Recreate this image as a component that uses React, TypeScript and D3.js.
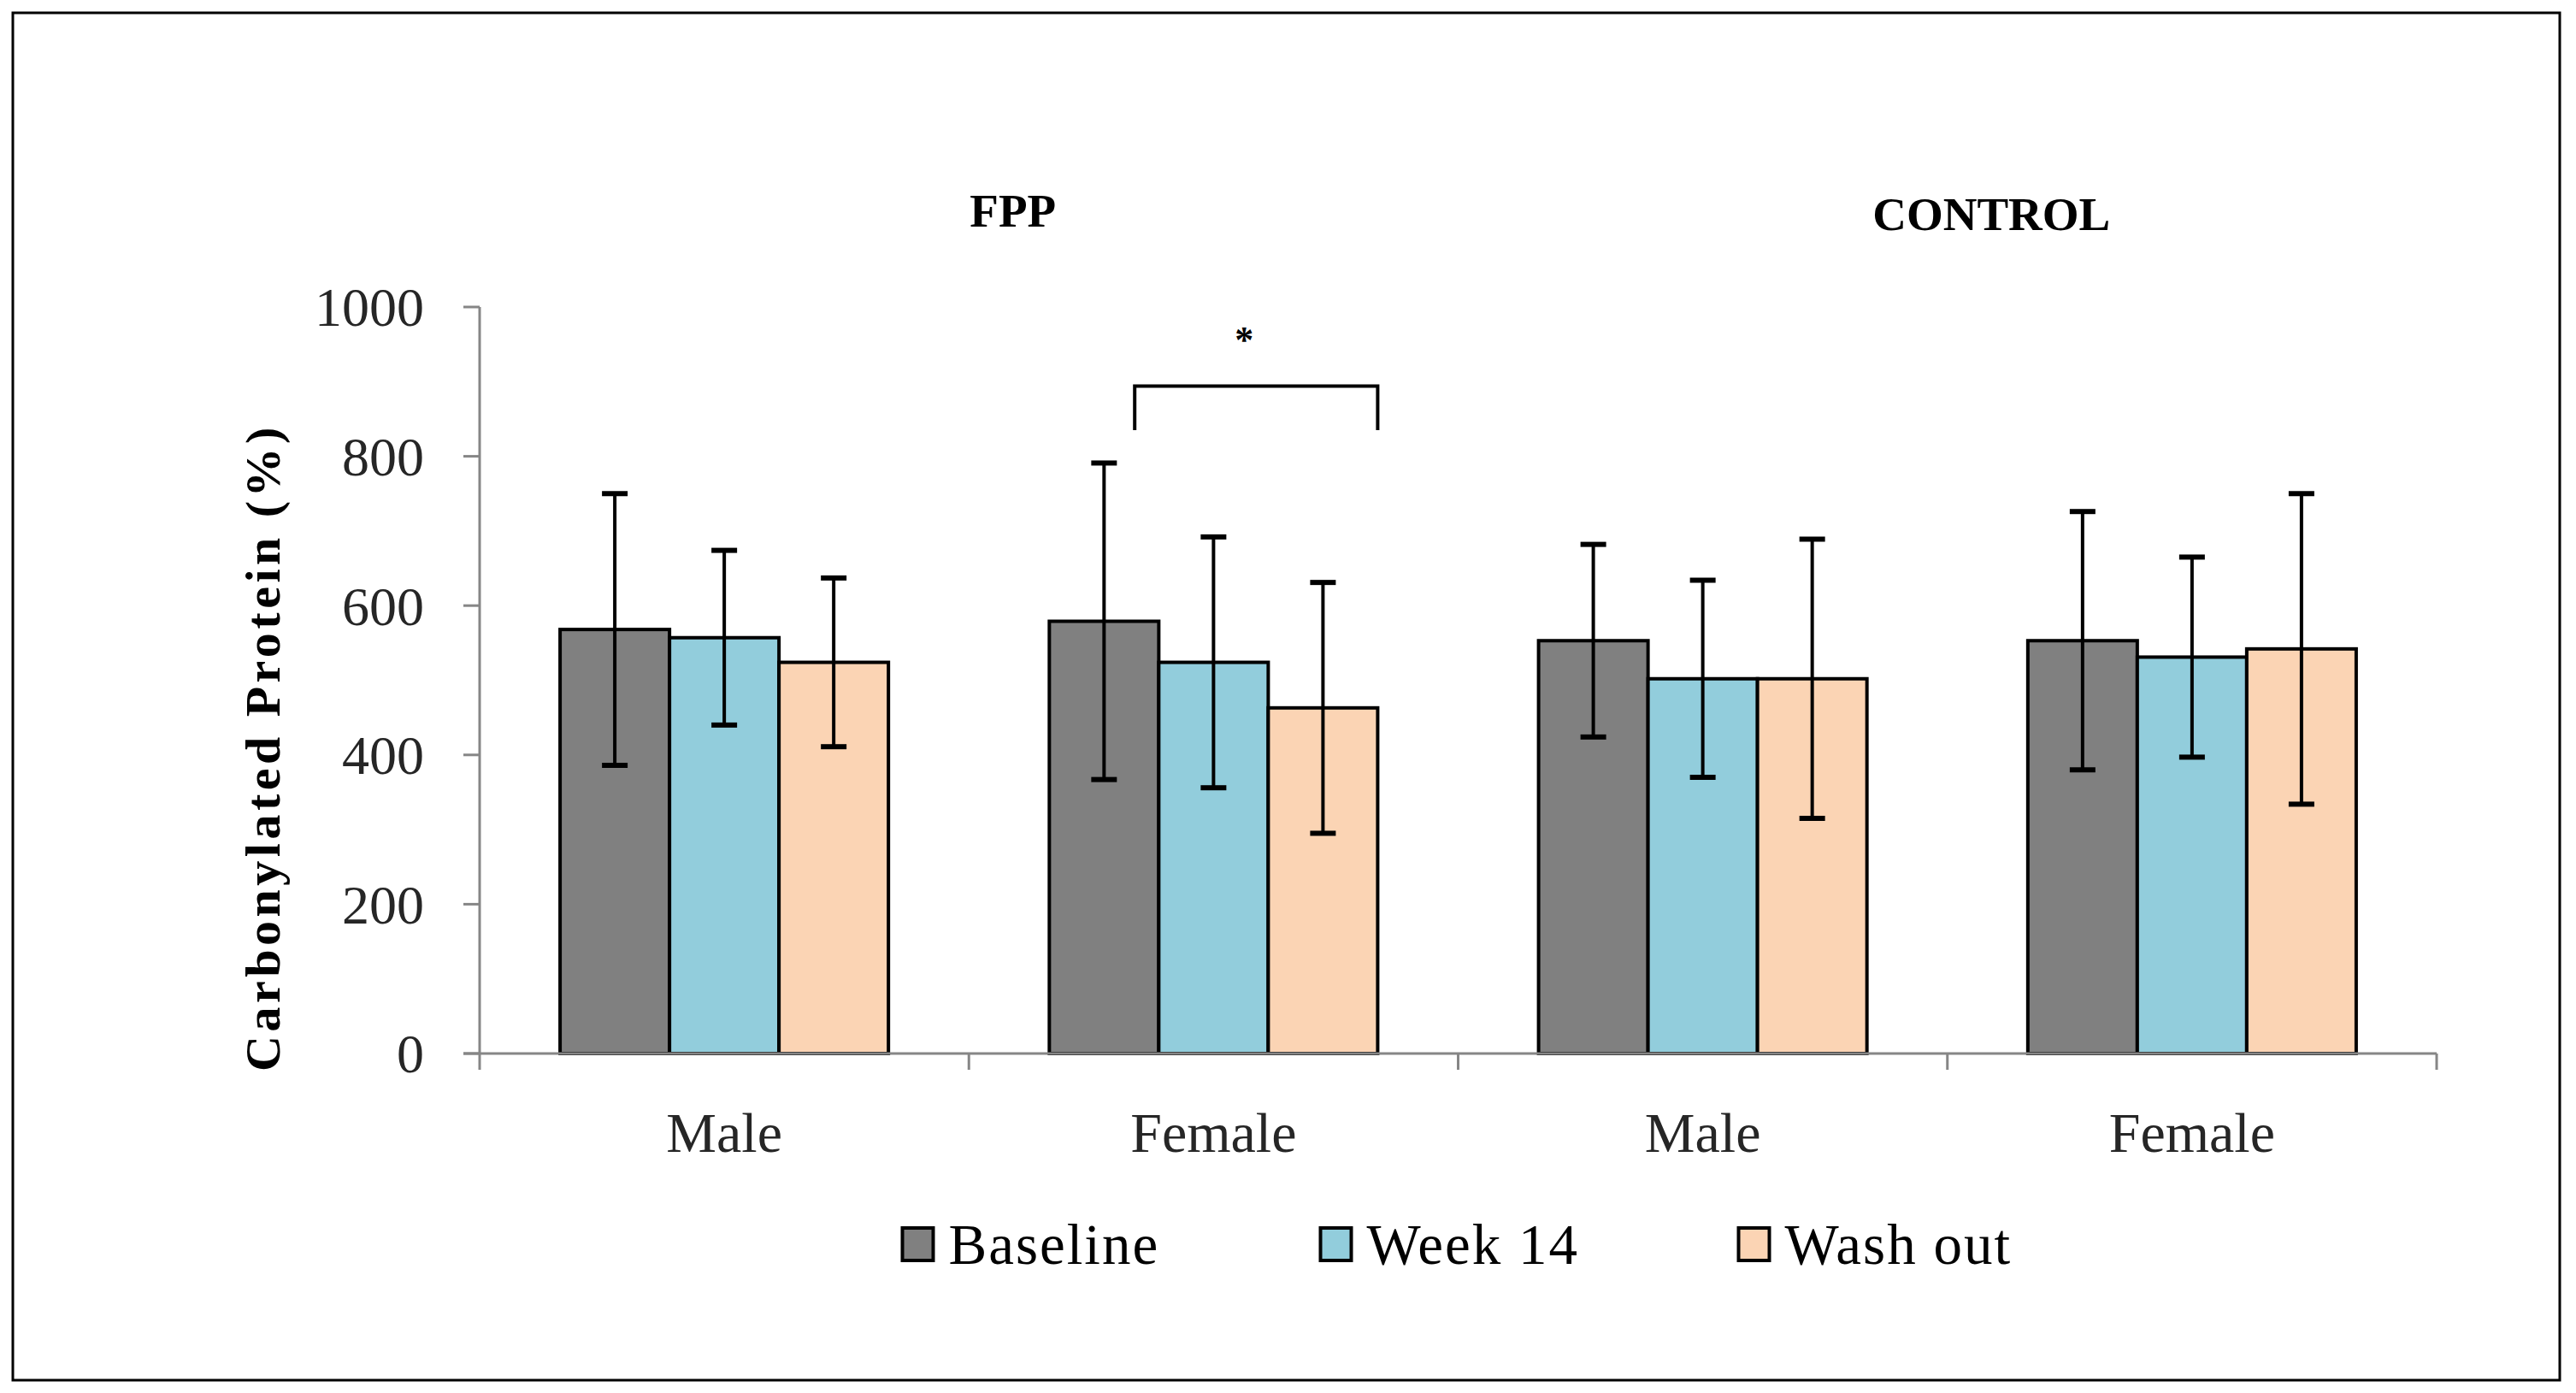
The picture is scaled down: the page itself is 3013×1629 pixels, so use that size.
import React from 'react'
import * as d3 from 'd3'

// categories along the x axis (each belongs to a treatment group)
const categories = ['Male', 'Female', 'Male', 'Female']
const groups = ['FPP', 'FPP', 'CONTROL', 'CONTROL']
const series = ['Baseline', 'Week 14', 'Wash out']
const seriesColors = ['#808080', '#92CDDC', '#FBD4B4']

// means and standard deviations
const baselineMeans = [568, 579, 553, 553]
const week14Means = [557, 524, 502, 531]
const washoutMeans = [524, 463, 502, 542]
const baselineSD = [182, 212, 129, 173]
const week14SD = [117, 168, 132, 134]
const washoutSD = [113, 168, 187, 208]

const yTicks = [0, 200, 400, 600, 800, 1000]

const W = 3013
const H = 1629
const FONT = "'Liberation Serif', 'DejaVu Serif', serif"

export default function App() {
  const means = [baselineMeans, week14Means, washoutMeans]
  const sds = [baselineSD, week14SD, washoutSD]
  const keys = categories.map((c, i) => `${groups[i]}-${c}-${i}`)

  const x0 = d3.scaleBand<string>().domain(keys).range([561, 2850]).padding(0)
  const x1 = d3.scaleBand<string>().domain(series).range([0, x0.bandwidth()])
    .paddingInner(0).paddingOuter(0.735)
  const y = d3.scaleLinear().domain([0, 1000]).range([1232, 359])

  const bw = x1.bandwidth()
  const capW = 30

  // significance bracket on FPP female: baseline -> wash out
  const fKey = keys[1]
  const brLeft = x0(fKey)! + x1('Baseline')! + bw * 0.78
  const brRight = x0(fKey)! + x1('Wash out')! + bw
  const brTop = y(894)
  const brBottom = y(835)

  const groupNames = ['FPP', 'CONTROL']
  const groupTitleX = groupNames.map(g => {
    const idx = groups.indexOf(g)
    return x0(keys[idx + 1])! + x0.bandwidth() * 0.09
  })

  const plotCenter = (x0.range()[0] + x0.range()[1]) / 2
  const legendStart = plotCenter - 650
  const legendStep = 489

  return (
    <svg width={W} height={H} style={{ position: 'absolute', left: 0, top: 0, display: 'block', background: '#fff' }}
      fontFamily={FONT}>
      <rect x={0} y={0} width={W} height={H} fill="#fff" />
      <rect x={15} y={15} width={2979} height={1599} fill="none" stroke="#000" strokeWidth={3} />

      {/* group titles */}
      {groupNames.map((g, i) => (
        <text key={g} x={groupTitleX[i]} y={i === 0 ? 265 : 269} textAnchor="middle"
          fontSize={55} fontWeight="bold" fill="#000">{g}</text>
      ))}

      {/* y axis */}
      <line x1={x0.range()[0]} x2={x0.range()[0]} y1={y(1000)} y2={y(0)} stroke="#868686" strokeWidth={3} />
      {yTicks.map(t => (
        <g key={t}>
          <line x1={x0.range()[0] - 19} x2={x0.range()[0]} y1={y(t)} y2={y(t)} stroke="#868686" strokeWidth={3} />
          <text x={496} y={y(t)} dy="0.35em" textAnchor="end" fontSize={64} fill="#262626">{t}</text>
        </g>
      ))}
      <text transform={`translate(307, 874) rotate(-90)`} textAnchor="middle" dy="0.35em"
        fontSize={58} fontWeight="bold" letterSpacing={4.5} fill="#000">Carbonylated Protein (%)</text>

      {/* bars */}
      {keys.map((k, ci) => (
        <g key={k} transform={`translate(${x0(k)},0)`}>
          {series.map((s, si) => (
            <rect key={s} x={x1(s)} y={y(means[si][ci])} width={bw} height={y(0) - y(means[si][ci])}
              fill={seriesColors[si]} stroke="#000" strokeWidth={4} />
          ))}
        </g>
      ))}

      {/* x axis */}
      <line x1={x0.range()[0] - 19} x2={x0.range()[1]} y1={y(0)} y2={y(0)} stroke="#868686" strokeWidth={3} />
      {[...keys.map(k => x0(k)!), x0.range()[1]].map((xv, i) => (
        <line key={i} x1={xv} x2={xv} y1={y(0)} y2={y(0) + 19} stroke="#868686" strokeWidth={3} />
      ))}
      {keys.map((k, ci) => (
        <text key={k} x={x0(k)! + x0.bandwidth() / 2} y={1324} dy="0.35em" textAnchor="middle"
          fontSize={66} fill="#262626">{categories[ci]}</text>
      ))}

      {/* error bars */}
      {keys.map((k, ci) => (
        <g key={k} transform={`translate(${x0(k)},0)`}>
          {series.map((s, si) => {
            const cx = x1(s)! + bw / 2
            const hi = y(means[si][ci] + sds[si][ci])
            const lo = y(means[si][ci] - sds[si][ci])
            return (
              <g key={s} stroke="#000" strokeWidth={4}>
                <line x1={cx} x2={cx} y1={hi} y2={lo} />
                <line x1={cx - capW / 2} x2={cx + capW / 2} y1={hi} y2={hi} strokeWidth={6} />
                <line x1={cx - capW / 2} x2={cx + capW / 2} y1={lo} y2={lo} strokeWidth={6} />
              </g>
            )
          })}
        </g>
      ))}

      {/* significance bracket */}
      <path d={`M${brLeft},${brBottom}V${brTop}H${brRight}V${brBottom}`} fill="none" stroke="#000" strokeWidth={4} />
      <text x={(brLeft + brRight) / 2 - 14} y={y(975)} dy="0.7em" textAnchor="middle" fontSize={44}
        fontWeight="bold" fill="#000">*</text>

      {/* legend */}
      {series.map((s, si) => {
        const lx = legendStart + si * legendStep
        return (
          <g key={s}>
            <rect x={lx} y={1436} width={36} height={38} fill={seriesColors[si]} stroke="#000" strokeWidth={4} />
            <text x={lx + 54} y={1455} dy="0.35em" fontSize={67} letterSpacing={2} fill="#000">{s}</text>
          </g>
        )
      })}
    </svg>
  )
}
